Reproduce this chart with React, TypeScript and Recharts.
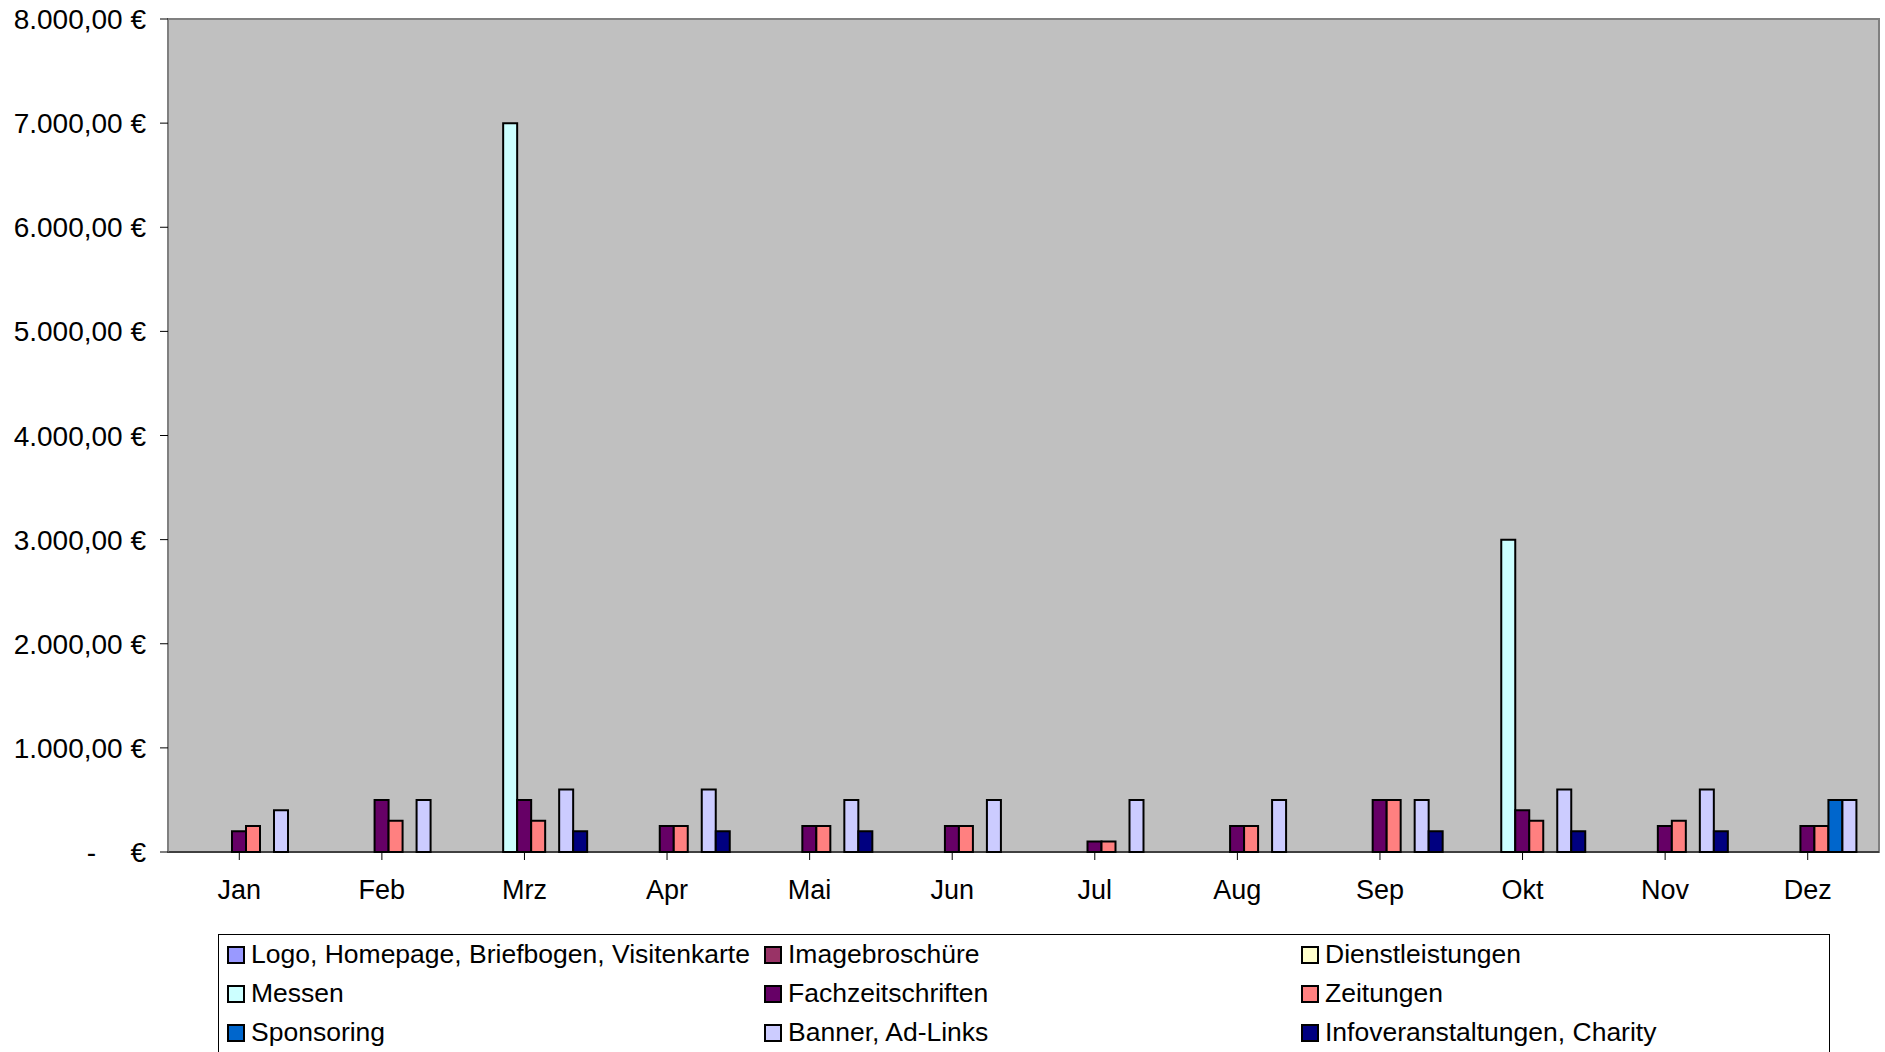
import React from "react";
import { BarChart, Bar, XAxis, YAxis, CartesianGrid } from "recharts";

const months = ["Jan","Feb","Mrz","Apr","Mai","Jun","Jul","Aug","Sep","Okt","Nov","Dez"];
const logo = [0,0,0,0,0,0,0,0,0,0,0,0];
const image = [0,0,0,0,0,0,0,0,0,0,0,0];
const dienst = [0,0,0,0,0,0,0,0,0,0,0,0];
const messen = [0,0,7000,0,0,0,0,0,0,3000,0,0];
const fach = [200,500,500,250,250,250,100,250,500,400,250,250];
const zeitungen = [250,300,300,250,250,250,100,250,500,300,300,250];
const sponsoring = [0,0,0,0,0,0,0,0,0,0,0,500];
const banner = [400,500,600,600,500,500,500,500,500,600,600,500];
const info = [0,0,200,200,200,0,0,0,200,200,200,0];
const yTicks = [0,1000,2000,3000,4000,5000,6000,7000,8000];

const series = [
  { key: "logo", name: "Logo, Homepage, Briefbogen, Visitenkarte", color: "#9999FF", vals: logo },
  { key: "image", name: "Imagebroschüre", color: "#993366", vals: image },
  { key: "dienst", name: "Dienstleistungen", color: "#FFFFCC", vals: dienst },
  { key: "messen", name: "Messen", color: "#CCFFFF", vals: messen },
  { key: "fach", name: "Fachzeitschriften", color: "#660066", vals: fach },
  { key: "zeit", name: "Zeitungen", color: "#FF8080", vals: zeitungen },
  { key: "spons", name: "Sponsoring", color: "#0066CC", vals: sponsoring },
  { key: "banner", name: "Banner, Ad-Links", color: "#CCCCFF", vals: banner },
  { key: "info", name: "Infoveranstaltungen, Charity", color: "#000080", vals: info },
];

const data = months.map((m, i) => {
  const row: any = { month: m };
  series.forEach((s) => (row[s.key] = s.vals[i]));
  return row;
});

const FONT = "Liberation Sans, Arial, sans-serif";

const YTick = (props: any) => {
  const { x, y, payload } = props;
  const v = payload.value;
  if (v === 0) {
    return (
      <g>
        <text x={x - 62} y={y} dy={10} textAnchor="end" fontSize={28} fontFamily={FONT} fill="#000">-</text>
        <text x={x - 12} y={y} dy={10} textAnchor="end" fontSize={28} fontFamily={FONT} fill="#000">€</text>
      </g>
    );
  }
  return (
    <text x={x - 12} y={y} dy={10} textAnchor="end" fontSize={28} fontFamily={FONT} fill="#000">
      {(v / 1000).toFixed(0) + ".000,00 €"}
    </text>
  );
};

export default function App() {
  return (
    <div style={{ position: "absolute", left: 0, top: 0, width: 1885, height: 1052, background: "#fff", overflow: "hidden" }}>
      <BarChart width={1885} height={1052} data={data} margin={{ top: 19, right: 6, bottom: 170, left: 0 }} barCategoryGap={8} barGap={0}>
        <rect x={168} y={19} width={1711} height={833} fill="#C0C0C0" stroke="#808080" strokeWidth={2} />
        <CartesianGrid vertical={false} stroke="#000" strokeWidth={1.5} />
        <XAxis dataKey="month" height={30} stroke="#000" tickSize={8} tick={{ fill: "#000", fontSize: 27, fontFamily: FONT, dy: 18 }} tickLine={{ stroke: "#000" }} interval={0} />
        <YAxis width={168} domain={[0, 8000]} ticks={yTicks} stroke="#808080" tickSize={8} tickLine={{ stroke: "#000" }} tick={<YTick />} />
        {series.map((s) => (
          <Bar key={s.key} dataKey={s.key} name={s.name} fill={s.color} stroke="#000" strokeWidth={2} isAnimationActive={false} />
        ))}
      </BarChart>
      <div style={{ position: "absolute", left: 218, top: 934, width: 1612, height: 130, border: "1px solid #000", background: "#fff", boxSizing: "border-box", fontFamily: FONT, fontSize: 26.5 }}>
        {series.map((s, i) => {
          const col = i % 3, row = Math.floor(i / 3);
          return (
            <div key={s.key} style={{ position: "absolute", left: 8 + col * 537, top: 4 + row * 39, display: "flex", alignItems: "center", whiteSpace: "nowrap" }}>
              <span style={{ display: "inline-block", width: 14, height: 14, background: s.color, border: "2px solid #000", marginRight: 6 }} />
              <span>{s.name}</span>
            </div>
          );
        })}
      </div>
    </div>
  );
}
